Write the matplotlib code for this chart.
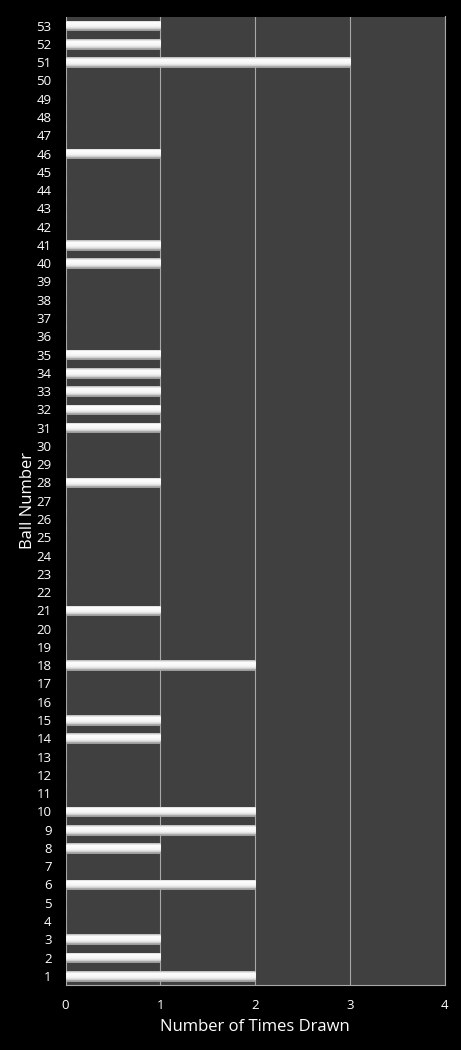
import matplotlib
matplotlib.use("Agg")
import matplotlib.pyplot as plt
import numpy as np
from matplotlib.colors import LinearSegmentedColormap

balls = list(range(1, 54))
drawn = {1: 2, 2: 1, 3: 1, 6: 2, 8: 1, 9: 2, 10: 2, 14: 1, 15: 1, 18: 2, 21: 1,
         28: 1, 31: 1, 32: 1, 33: 1, 34: 1, 35: 1, 40: 1, 41: 1, 46: 1,
         51: 3, 52: 1, 53: 1}
counts = [drawn.get(b, 0) for b in balls]
xticks = [0, 1, 2, 3, 4]

plt.rcParams['font.family'] = ['Open Sans', 'DejaVu Sans']

fig = plt.figure(figsize=(4.61, 10.5), dpi=100, facecolor='black')
ax = fig.add_axes([65.5/461, 65/1050, 379/461, 968.5/1050])
ax.set_facecolor('#404040')

bh = 0.53
bars = ax.barh(balls, counts, height=bh, color='#ececec', edgecolor='#a0a0a0',
               linewidth=0.5, zorder=3)

# top -> bottom gradient (value 0 at top)
cmap = LinearSegmentedColormap.from_list('g', [(0, '#b4b4b4'), (0.22, '#ffffff'),
                                               (0.65, '#f4f4f4'), (0.88, '#d0d0d0'),
                                               (1, '#909090')])
grad = np.linspace(0, 1, 64).reshape(-1, 1)
for rect in bars:
    c = rect.get_width()
    if c <= 0:
        continue
    y0 = rect.get_y()
    im = ax.imshow(grad, cmap=cmap, vmin=0, vmax=1, aspect='auto',
                   extent=[0, c, y0, y0 + bh], origin='upper', zorder=4,
                   interpolation='bilinear')
    im.set_clip_path(rect)

ax.set_xlim(0, 4)
ax.set_ylim(0.5, 53.5)
ax.set_xticks(xticks)
ax.set_yticks(balls)
ax.set_yticklabels([str(b) for b in balls])
ax.xaxis.grid(True, color='#a8a8a8', linewidth=0.8, zorder=1)
ax.set_axisbelow(True)
ax.tick_params(axis='both', colors='white', labelsize=9.5, length=0)
ax.tick_params(axis='x', pad=10)
ax.tick_params(axis='y', pad=10)
for s in ['top', 'left']:
    ax.spines[s].set_visible(False)
ax.spines['right'].set_color('#a8a8a8')
ax.spines['right'].set_linewidth(0.8)
ax.spines['bottom'].set_color('#a8a8a8')
ax.spines['bottom'].set_linewidth(0.8)
ax.set_xlabel('Number of Times Drawn', color='white', fontsize=12, labelpad=5)
ax.set_ylabel('Ball Number', color='white', fontsize=12, labelpad=0)

fig.savefig('out.png', dpi=100, facecolor='black')
